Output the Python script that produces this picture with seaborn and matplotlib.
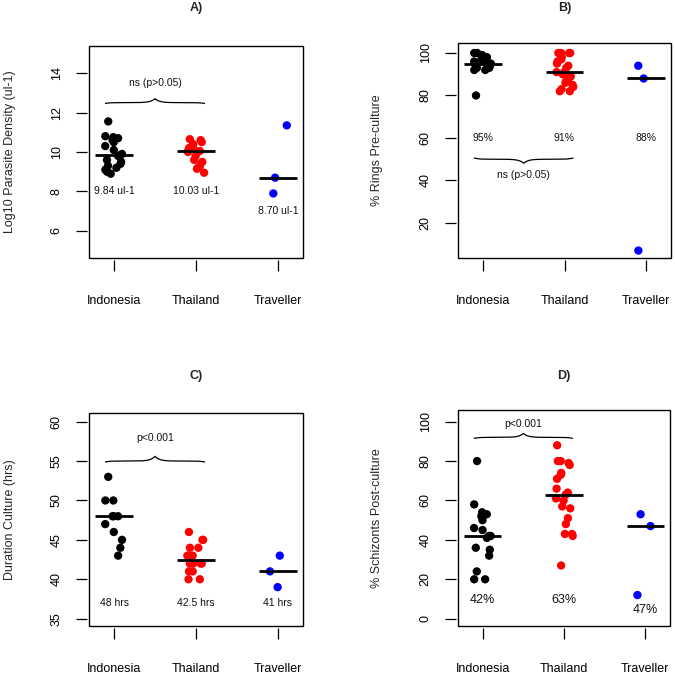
import numpy as np
import pandas as pd
import matplotlib
matplotlib.use("Agg")
import matplotlib.pyplot as plt
import seaborn as sns
from matplotlib.patches import Rectangle

# ---------------- data ----------------
groups = ["Indonesia", "Thailand", "Traveller"]
group_colors = ["#000000", "#ff0000", "#0000ff"]

# A) Log10 parasite density
density_indonesia = [11.55, 10.8, 10.75, 10.7, 10.6, 10.5, 10.3, 10.1, 9.9, 9.84,
                     9.8, 9.6, 9.5, 9.4, 9.3, 9.2, 9.1, 9.0, 8.9]
density_thailand = [10.65, 10.6, 10.5, 10.4, 10.3, 10.2, 10.1, 10.05, 10.03, 10.0,
                    9.8, 9.6, 9.5, 9.3, 9.2, 9.15, 8.95]
density_traveller = [11.35, 8.70, 7.9]
density_labels = ["9.84 ul-1", "10.03 ul-1", "8.70 ul-1"]

# B) % rings pre-culture
rings_indonesia = [100, 100, 99, 98, 97, 97, 96, 96, 95, 95, 95, 94, 94, 93, 93, 92, 92, 80]
rings_thailand = [100, 100, 100, 100, 98, 97, 96, 95, 94, 93, 91, 91, 90, 89, 88, 87,
                  86, 85, 84, 83, 82, 82]
rings_traveller = [94, 88, 7]
rings_labels = ["95%", "91%", "88%"]

# C) Duration of culture (hrs)
duration_indonesia = [53, 50, 50, 48, 48, 48, 47, 46, 45, 44, 43]
duration_thailand = [46, 45, 45, 44, 44, 43, 43, 43, 42, 42, 42, 42, 41, 41, 40, 40]
duration_traveller = [43, 41, 39]
duration_labels = ["48 hrs", "42.5 hrs", "41 hrs"]

# D) % schizonts post-culture
schizonts_indonesia = [80, 58, 54, 53, 52, 50, 46, 45, 42, 42, 41, 36, 35, 32, 24, 20, 20]
schizonts_thailand = [88, 80, 80, 79, 78, 74, 73, 71, 66, 64, 63, 61, 60, 57, 56, 51,
                      48, 43, 43, 42, 27]
schizonts_traveller = [53, 47, 12]
schizonts_labels = ["42%", "63%", "47%"]

# ---------------- style ----------------
sns.set_style("white")
plt.rcParams["font.family"] = ["Liberation Sans", "DejaVu Sans"]

W, H = 675, 678
fig = plt.figure(figsize=(W / 100, H / 100), dpi=100)
fig.patch.set_facecolor("white")


def px_rect(left, top, right, bottom):
    return [left / W, 1 - bottom / H, (right - left) / W, (bottom - top) / H]


def brace(ax, x1, x2, y, tip, hook, lw=0.9):
    xm = (x1 + x2) / 2
    u = np.linspace(0, 1, 300)
    half = y - hook * (1 - np.tanh(9 * u)) + tip * np.exp(-(1 - u) / 0.09)
    xs = np.concatenate([x1 + u * (xm - x1), (x2 - u * (x2 - xm))[::-1]])
    ys = np.concatenate([half, half[::-1]])
    ax.plot(xs, ys, color="black", lw=lw, solid_capstyle="butt")


def panel(rect, series, ylabel, title, title_off, ylim, yticks, labels, label_y,
          label_size, brace_spec, note, note_y, ylabel_x):
    ax = fig.add_axes(rect)
    df = pd.DataFrame({
        "group": np.repeat(groups, [len(v) for v in series]),
        "value": np.concatenate([np.asarray(v, float) for v in series]),
    })
    np.random.seed(11)
    sns.stripplot(data=df, x="group", y="value", hue="group", order=groups,
                  hue_order=groups, palette=group_colors, jitter=0.11, size=6,
                  linewidth=0, legend=False, ax=ax, zorder=3)
    meds = df.groupby("group")["value"].median().reindex(groups).values
    pos = np.arange(len(groups))
    ax.hlines(meds, pos - 0.23, pos + 0.23, colors="black", lw=2, zorder=4)

    for p, lab, ly in zip(pos, labels, label_y):
        ax.text(p, ly, lab, ha="center", va="center", fontsize=label_size, color="#111111")

    bx1, bx2, by, btip, bhook = brace_spec
    brace(ax, bx1, bx2, by, btip, bhook)
    ax.text((bx1 + bx2) / 2, note_y, note, ha="center", va="center", fontsize=7.5,
            color="#111111")

    ax.set_xlim(-0.305, 2.305)
    ax.set_ylim(*ylim)
    ax.set_yticks(yticks)
    ax.set_yticklabels([str(t) for t in yticks])
    ax.set_xlabel("")
    ax.set_ylabel(ylabel, fontsize=9, va="center")
    ax.yaxis.set_label_coords(ylabel_x, 0.5)
    ax.set_title(title, fontsize=9, fontweight="bold", y=1 + title_off, va="center", pad=0)

    for s in ax.spines.values():
        s.set_visible(False)
    ax.spines["bottom"].set_position(("outward", 1.5))
    ax.spines["left"].set_position(("outward", 1.5))
    ax.add_patch(Rectangle((0, 0), 1, 1, transform=ax.transAxes, fill=False,
                           lw=1.0, edgecolor="black", clip_on=False, zorder=5))
    ax.tick_params(axis="both", direction="out", length=8, width=0.9, colors="black",
                   labelsize=9, bottom=True, left=True)
    ax.tick_params(axis="x", pad=17)
    ax.tick_params(axis="y", pad=9.5, labelrotation=90)
    for lab in ax.get_yticklabels():
        lab.set_va("center")
    ax.grid(False)
    ax.set_facecolor("white")
    return ax


# A
panel(px_rect(89, 46, 303, 258),
      [density_indonesia, density_thailand, density_traveller],
      "Log10 Parasite Density (ul-1)", "A)", 38 / 212, (4.63, 15.37), [6, 8, 10, 12, 14],
      density_labels, [8, 8, 7], 7.5, (-0.11, 1.11, 12.5, 0.2, 0.04),
      "ns (p>0.05)", 13.5, -0.369)

# B
panel(px_rect(458, 43, 671, 258),
      [rings_indonesia, rings_thailand, rings_traveller],
      "% Rings Pre-culture", "B)", 35 / 215, (3.5, 104.7), [20, 40, 60, 80, 100],
      rings_labels, [60, 60, 60], 7.5, (-0.11, 1.11, 50, -1.9, -0.6),
      "ns (p>0.05)", 42.4, -0.38)

# C
panel(px_rect(89, 413, 303, 626),
      [duration_indonesia, duration_thailand, duration_traveller],
      "Duration Culture (hrs)", "C)", 36.7 / 213, (34.07, 61.1), [35, 40, 45, 50, 55, 60],
      duration_labels, [37, 37, 37], 7.5, (-0.11, 1.11, 55, 0.6, 0.12),
      "p<0.001", 57.9, -0.369)

# D
panel(px_rect(458, 410, 670, 626),
      [schizonts_indonesia, schizonts_thailand, schizonts_traveller],
      "% Schizonts Post-culture", "D)", 33.7 / 216, (-3.7, 105.9), [0, 20, 40, 60, 80, 100],
      schizonts_labels, [9.3, 9.3, 4.2], 9, (-0.11, 1.11, 92, 2.0, 0.5),
      "p<0.001", 98.6, -0.38)

fig.savefig("out.png", dpi=100, facecolor="white")
